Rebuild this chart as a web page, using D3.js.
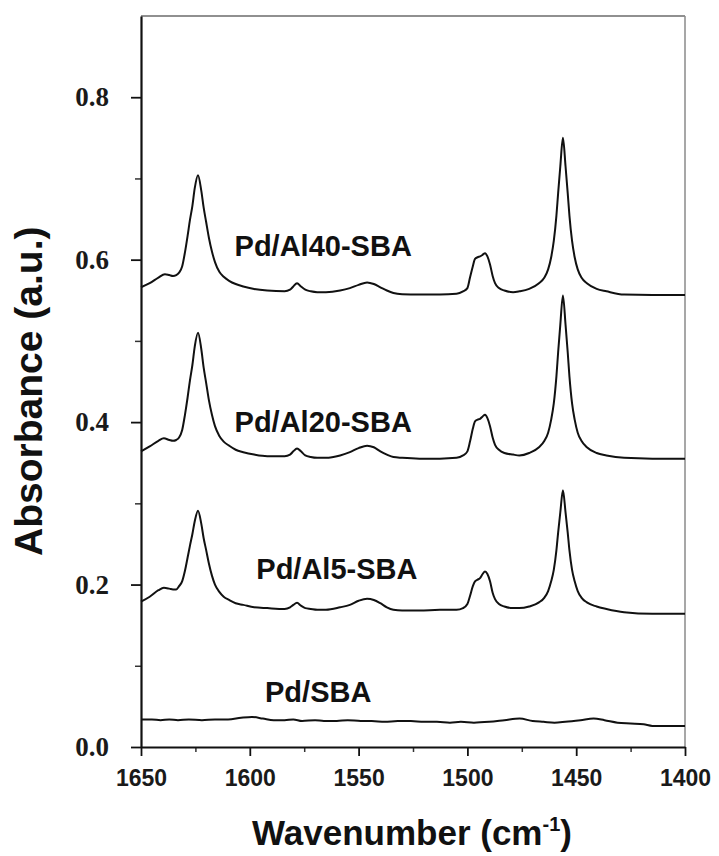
<!DOCTYPE html>
<meta charset="utf-8">

<!-- Load d3.js -->
<script src="https://d3js.org/d3.v7.min.js"></script>

<style>
  body { margin: 0; background: #fff; }
</style>

<!-- Create a div where the graph will take place -->
<div id="ftir"></div>

<script>

  // spectra: [wavenumber, absorbance]
  var pdAl40 = [
    [1650, 0.566], [1646, 0.571], [1642, 0.578], [1639, 0.582], [1637, 0.581], [1635.3, 0.580],
    [1633.8, 0.581], [1632.5, 0.584], [1631.1, 0.5915], [1629.8, 0.609], [1628.6, 0.629], [1627.5, 0.649],
    [1626.4, 0.666], [1625.3, 0.688], [1623.8, 0.704], [1622.3, 0.685], [1621.2, 0.664], [1620.1, 0.647],
    [1618.8, 0.627], [1617.4, 0.610], [1616, 0.597], [1614, 0.585], [1612, 0.579], [1609.5, 0.574],
    [1606.5, 0.570], [1603, 0.567], [1598, 0.564], [1592, 0.562], [1584, 0.561], [1581.5, 0.563],
    [1580, 0.567], [1578.3, 0.571], [1576.5, 0.567], [1574.5, 0.563], [1572, 0.561], [1569, 0.560],
    [1565, 0.560], [1558.5, 0.562], [1554, 0.565], [1550, 0.569], [1546.1, 0.572], [1543, 0.570],
    [1540, 0.566], [1537, 0.562], [1534, 0.559], [1530, 0.5575], [1522, 0.557], [1512.6, 0.557],
    [1505, 0.558], [1502, 0.561], [1500, 0.565], [1498.8, 0.578], [1497.5, 0.592], [1496.5, 0.601],
    [1495.3, 0.603], [1494.2, 0.604], [1493, 0.606], [1491.9, 0.608], [1490.8, 0.604], [1489.6, 0.594],
    [1488.4, 0.580], [1487.3, 0.571], [1485.5, 0.565], [1483, 0.562], [1479, 0.560], [1476.1, 0.561],
    [1471.6, 0.564], [1467.1, 0.571], [1464.6, 0.578], [1462.9, 0.588], [1461.5, 0.603], [1460.3, 0.623],
    [1459.1, 0.654], [1458.3, 0.682], [1457.3, 0.715], [1456.1, 0.750], [1454.9, 0.715], [1453.9, 0.682],
    [1453.1, 0.654], [1451.9, 0.623], [1450.7, 0.603], [1449.3, 0.588], [1447.6, 0.578], [1445.1, 0.571],
    [1440.6, 0.564], [1436.1, 0.561], [1428, 0.557], [1415, 0.5565], [1400, 0.5565]
  ];

  var pdAl20 = [
    [1650, 0.364], [1646, 0.370], [1642, 0.377], [1639.5, 0.380], [1637, 0.378], [1635.3, 0.377],
    [1633.8, 0.378], [1632.5, 0.381], [1631.1, 0.390], [1629.8, 0.409], [1628.6, 0.430], [1627.5, 0.4515],
    [1626.4, 0.470], [1625.3, 0.493], [1623.8, 0.510], [1622.3, 0.490], [1621.2, 0.467], [1620.1, 0.449],
    [1618.8, 0.427], [1617.4, 0.409], [1616, 0.395], [1614, 0.383], [1612, 0.376], [1609.5, 0.371],
    [1606.5, 0.366], [1603, 0.363], [1598, 0.360], [1592, 0.358], [1584, 0.358], [1581.5, 0.360],
    [1580, 0.364], [1578.3, 0.3675], [1576.5, 0.364], [1574.5, 0.359], [1572, 0.357], [1569, 0.356],
    [1565, 0.356], [1558.5, 0.359], [1554, 0.363], [1550, 0.368], [1546.1, 0.371], [1543, 0.369],
    [1540, 0.364], [1537, 0.360], [1534, 0.357], [1530, 0.356], [1522, 0.355], [1512.6, 0.355],
    [1505, 0.356], [1502, 0.359], [1500, 0.364], [1498.8, 0.376], [1497.5, 0.392], [1496.5, 0.401],
    [1495.3, 0.403], [1494.2, 0.404], [1493, 0.407], [1491.9, 0.409], [1490.8, 0.405], [1489.6, 0.395],
    [1488.4, 0.381], [1487.3, 0.372], [1485.5, 0.366], [1483, 0.362], [1479, 0.360], [1476.1, 0.359],
    [1471.6, 0.362], [1467.1, 0.369], [1464.6, 0.377], [1462.9, 0.387], [1461.5, 0.403], [1460.3, 0.423],
    [1459.1, 0.456], [1458.3, 0.486], [1457.3, 0.520], [1456.1, 0.556], [1454.9, 0.520], [1453.9, 0.486],
    [1453.1, 0.456], [1451.9, 0.423], [1450.7, 0.403], [1449.3, 0.387], [1447.6, 0.377], [1445.1, 0.369],
    [1440.6, 0.362], [1436.1, 0.359], [1428, 0.356], [1415, 0.355], [1400, 0.355]
  ];

  var pdAl5 = [
    [1650, 0.179], [1646, 0.185], [1642, 0.193], [1639.5, 0.196], [1637, 0.195], [1635.3, 0.194],
    [1633.8, 0.194], [1632.5, 0.198], [1631.1, 0.204], [1629.8, 0.217], [1628.6, 0.233], [1627.5, 0.248],
    [1626.4, 0.262], [1625.3, 0.278], [1623.8, 0.291], [1622.3, 0.275], [1621.2, 0.257], [1620.1, 0.243],
    [1618.8, 0.226], [1617.4, 0.211], [1616, 0.200], [1614, 0.191], [1612, 0.185], [1609.5, 0.181],
    [1606.5, 0.177], [1603, 0.175], [1598, 0.172], [1592, 0.171], [1584, 0.170], [1581.5, 0.172],
    [1580, 0.175], [1578.3, 0.1775], [1576.5, 0.174], [1574.5, 0.171], [1572, 0.170], [1569, 0.169],
    [1565, 0.169], [1558.5, 0.172], [1554, 0.175], [1550, 0.180], [1546.1, 0.1825], [1543, 0.181],
    [1540, 0.177], [1537, 0.172], [1534, 0.169], [1530, 0.168], [1522, 0.168], [1512.6, 0.169],
    [1505, 0.169], [1502, 0.171], [1500, 0.176], [1498.8, 0.186], [1497.5, 0.198], [1496.5, 0.204],
    [1495.3, 0.206], [1494.2, 0.208], [1493, 0.213], [1491.9, 0.216], [1490.8, 0.213], [1489.6, 0.204],
    [1488.4, 0.190], [1487.3, 0.182], [1485.5, 0.176], [1483, 0.173], [1479, 0.171], [1476.1, 0.171],
    [1471.6, 0.173], [1467.1, 0.178], [1464.6, 0.184], [1462.9, 0.192], [1461.5, 0.204], [1460.3, 0.218],
    [1459.1, 0.242], [1458.3, 0.264], [1457.3, 0.289], [1456.1, 0.316], [1454.9, 0.289], [1453.9, 0.264],
    [1453.1, 0.242], [1451.9, 0.218], [1450.7, 0.204], [1449.3, 0.192], [1447.6, 0.184], [1445.1, 0.178],
    [1440.6, 0.173], [1436.1, 0.170], [1428, 0.166], [1415, 0.164], [1400, 0.164]
  ];

  var pdSba = [
    [1650, 0.034], [1645, 0.034], [1641, 0.033], [1637, 0.034], [1633, 0.033], [1628, 0.034],
    [1622, 0.033], [1616, 0.034], [1610, 0.034], [1604, 0.036], [1599, 0.037], [1594, 0.035],
    [1589, 0.033], [1584, 0.033], [1580, 0.034], [1576, 0.032], [1570, 0.033], [1566, 0.032],
    [1560, 0.032], [1555, 0.033], [1549, 0.032], [1544, 0.032], [1538, 0.031], [1532, 0.032],
    [1526, 0.032], [1520, 0.031], [1514, 0.031], [1508, 0.030], [1503, 0.031], [1497, 0.030],
    [1490, 0.031], [1483, 0.033], [1476, 0.035], [1470, 0.032], [1465, 0.031], [1460, 0.030],
    [1455, 0.031], [1448, 0.033], [1442, 0.035], [1437, 0.033], [1431, 0.030], [1425, 0.029],
    [1419, 0.028], [1415, 0.026], [1400, 0.026]
  ];

  var seriesNames = ["Pd/Al40-SBA", "Pd/Al20-SBA", "Pd/Al5-SBA", "Pd/SBA"];
  var seriesData = [pdAl40, pdAl20, pdAl5, pdSba];
  // label anchor in data units [wavenumber, absorbance] (baseline-left)
  var labelAt = [[1607, 0.604], [1607, 0.388], [1597, 0.207], [1593, 0.055]];

  var xMajor = [1650, 1600, 1550, 1500, 1450, 1400];
  var xMinor = [1625, 1575, 1525, 1475, 1425];
  var yMajor = [0.0, 0.2, 0.4, 0.6, 0.8];
  var yMinor = [0.1, 0.3, 0.5, 0.7];

  // set the dimensions and margins of the graph
  var margin = {top: 16, right: 34, bottom: 109, left: 141},
      width = 719 - margin.left - margin.right,
      height = 856 - margin.top - margin.bottom;

  var svg = d3.select("#ftir")
    .append("svg")
      .attr("width", width + margin.left + margin.right)
      .attr("height", height + margin.top + margin.bottom)
    .append("g")
      .attr("transform", "translate(" + margin.left + "," + margin.top + ")");

  // wavenumber runs high -> low
  var x = d3.scaleLinear()
    .domain([1650, 1400])
    .range([0, width]);

  var y = d3.scaleLinear()
    .domain([0, 0.9])
    .range([height, 0]);

  // frame: top black, right grey
  svg.append("line")
    .attr("x1", 0).attr("x2", width).attr("y1", 0).attr("y2", 0)
    .attr("stroke", "#222").attr("stroke-width", 1.2);
  svg.append("line")
    .attr("x1", width).attr("x2", width).attr("y1", 0).attr("y2", height)
    .attr("stroke", "#8a8a8a").attr("stroke-width", 1.5);

  // X axis, major + minor ticks
  svg.append("g")
    .attr("transform", "translate(0," + height + ")")
    .call(d3.axisBottom(x).tickValues(xMinor).tickSize(5).tickFormat(""))
    .call(function(g) { g.select(".domain").remove(); })
    .selectAll("line").attr("stroke-width", 1.5).attr("stroke", "#333");

  var xAxis = svg.append("g")
    .attr("transform", "translate(0," + height + ")")
    .call(d3.axisBottom(x).tickValues(xMajor).tickSize(9).tickSizeOuter(0).tickPadding(14).tickFormat(d3.format("d")));
  xAxis.select(".domain").attr("stroke-width", 2.2).attr("stroke", "#111");
  xAxis.selectAll(".tick line").attr("stroke-width", 1.8).attr("stroke", "#111");
  xAxis.selectAll("text")
    .style("font-family", "'Liberation Sans', Arial, sans-serif")
    .style("font-weight", "bold")
    .style("font-size", "23px")
    .attr("fill", "#1a1a1a");

  // Y axis, major + minor ticks
  svg.append("g")
    .call(d3.axisLeft(y).tickValues(yMinor).tickSize(6).tickFormat(""))
    .call(function(g) { g.select(".domain").remove(); })
    .selectAll("line").attr("stroke-width", 1.5).attr("stroke", "#333");

  var yAxis = svg.append("g")
    .call(d3.axisLeft(y).tickValues(yMajor).tickSize(10).tickSizeOuter(0).tickPadding(22).tickFormat(d3.format(".1f")));
  yAxis.select(".domain").attr("stroke-width", 2.2).attr("stroke", "#111");
  yAxis.selectAll(".tick line").attr("stroke-width", 1.8).attr("stroke", "#111");
  yAxis.selectAll("text")
    .style("font-family", "'Liberation Serif', 'Times New Roman', serif")
    .style("font-weight", "bold")
    .style("font-size", "27px")
    .attr("fill", "#1a1a1a");

  // spectra
  var line = d3.line()
    .x(function(d) { return x(d[0]); })
    .y(function(d) { return y(d[1]); })
    .curve(d3.curveMonotoneX);

  svg.append("g")
    .selectAll("path")
    .data(seriesData)
    .enter()
    .append("path")
      .attr("d", line)
      .attr("fill", "none")
      .attr("stroke", "#111")
      .attr("stroke-width", 2)
      .attr("stroke-linejoin", "round");

  // series labels
  svg.append("g")
    .selectAll("text")
    .data(seriesNames)
    .enter()
    .append("text")
      .attr("x", function(d, i) { return x(labelAt[i][0]); })
      .attr("y", function(d, i) { return y(labelAt[i][1]); })
      .text(function(d) { return d; })
      .style("font-family", "'Liberation Sans', Arial, sans-serif")
      .style("font-weight", "bold")
      .style("font-size", "29px")
      .attr("fill", "#111");

  // Y axis label
  svg.append("text")
    .attr("text-anchor", "middle")
    .attr("transform", "translate(" + (-margin.left + 42) + "," + (y(0.438)) + ") rotate(-90)")
    .text("Absorbance (a.u.)")
    .style("font-family", "'Liberation Sans', Arial, sans-serif")
    .style("font-weight", "bold")
    .style("font-size", "39px")
    .attr("fill", "#111");

  // X axis label
  var xt = svg.append("text")
    .attr("text-anchor", "middle")
    .attr("x", width / 2 - 1)
    .attr("y", height + 98)
    .style("font-family", "'Liberation Sans', Arial, sans-serif")
    .style("font-weight", "bold")
    .style("font-size", "35px")
    .attr("fill", "#111");
  xt.append("tspan").text("Wavenumber (cm");
  xt.append("tspan").text("-1").attr("dy", -14).style("font-size", "20px");
  xt.append("tspan").text(")").attr("dy", 14);

</script>
